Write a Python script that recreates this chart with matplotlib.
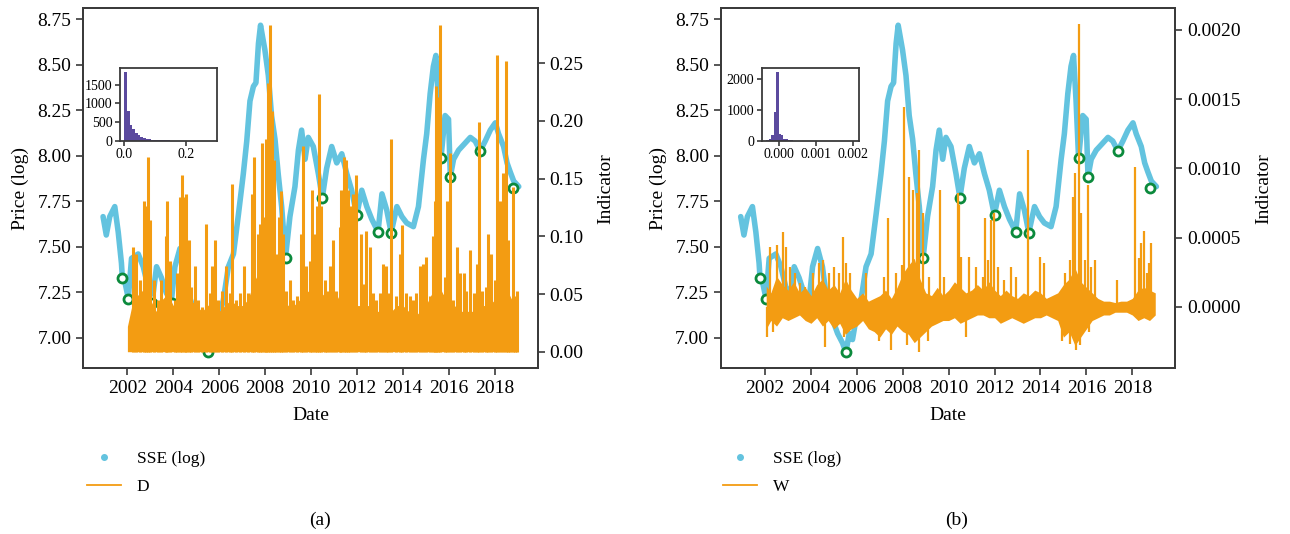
import numpy as np
import matplotlib
matplotlib.use("Agg")
import matplotlib.pyplot as plt
from matplotlib.lines import Line2D
from matplotlib.ticker import FormatStrFormatter, MultipleLocator

# SSE close (log), decimal years
PRICE_T = [2000.94, 2001.08, 2001.23, 2001.45, 2001.60, 2001.74, 2001.78, 2001.90, 2002.04, 2002.18,
           2002.47, 2002.69, 2002.90, 2003.12, 2003.27, 2003.48, 2003.70, 2003.92, 2004.07, 2004.29,
           2004.50, 2004.65, 2004.80, 2004.94, 2005.16, 2005.38, 2005.52, 2005.67, 2005.81, 2005.96,
           2006.18, 2006.40, 2006.62, 2006.84, 2007.05, 2007.20, 2007.34, 2007.49, 2007.60, 2007.71,
           2007.80, 2007.99, 2008.14, 2008.28, 2008.43, 2008.57, 2008.72, 2008.89, 2009.08, 2009.30,
           2009.45, 2009.59, 2009.74, 2009.88, 2010.10, 2010.32, 2010.49, 2010.68, 2010.90, 2011.12,
           2011.34, 2011.56, 2011.77, 2011.99, 2012.21, 2012.43, 2012.65, 2012.92, 2013.09, 2013.30,
           2013.49, 2013.74, 2013.96, 2014.17, 2014.46, 2014.68, 2014.90, 2015.04, 2015.19, 2015.33,
           2015.44, 2015.55, 2015.66, 2015.84, 2015.99, 2016.07, 2016.21, 2016.43, 2016.65, 2016.94,
           2017.15, 2017.37, 2017.59, 2017.81, 2018.03, 2018.17, 2018.39, 2018.54, 2018.68, 2018.83,
           2019.05]
PRICE_V = [7.665, 7.564, 7.665, 7.720, 7.580, 7.410, 7.330, 7.300, 7.216, 7.436,
           7.460, 7.390, 7.280, 7.240, 7.390, 7.330, 7.244, 7.207, 7.390, 7.490,
           7.390, 7.244, 7.190, 7.100, 7.024, 6.970, 6.920, 7.024, 6.990, 7.100,
           7.207, 7.390, 7.460, 7.680, 7.900, 8.080, 8.300, 8.380, 8.400, 8.616,
           8.716, 8.580, 8.440, 8.220, 8.090, 7.900, 7.720, 7.443, 7.665, 7.830,
           8.030, 8.140, 7.980, 8.100, 8.050, 7.900, 7.769, 7.930, 8.050, 7.960,
           8.010, 7.900, 7.810, 7.674, 7.810, 7.720, 7.650, 7.582, 7.790, 7.700,
           7.577, 7.720, 7.665, 7.630, 7.610, 7.720, 7.980, 8.120, 8.340, 8.490,
           8.550, 8.300, 7.986, 8.220, 8.200, 7.885, 7.980, 8.030, 8.060, 8.100,
           8.080, 8.026, 8.080, 8.140, 8.180, 8.120, 8.050, 7.960, 7.910, 7.860,
           7.830]

# detected change points
MARK_T = [2001.78, 2002.04, 2003.05, 2003.96, 2004.62, 2005.52, 2008.89, 2010.49,
          2012.02, 2012.92, 2013.49, 2015.67, 2016.07, 2017.37, 2018.79]
MARK_P = [7.330, 7.215, 7.190, 7.190, 7.130, 6.920, 7.440, 7.770,
          7.675, 7.580, 7.575, 7.985, 7.885, 8.025, 7.820]

# indicator D: peaks and the dense floor underneath
D_T = [2002.25, 2002.39, 2002.54, 2002.71, 2002.80, 2002.90, 2003.00, 2003.15, 2003.33, 2003.48,
       2003.67, 2003.74, 2003.84, 2004.06, 2004.18, 2004.28, 2004.39, 2004.50, 2004.57, 2004.67,
       2004.79, 2004.94, 2005.08, 2005.23, 2005.41, 2005.59, 2005.70, 2005.80, 2005.95, 2006.14,
       2006.31, 2006.46, 2006.57, 2006.75, 2006.89, 2007.07, 2007.26, 2007.44, 2007.50, 2007.69,
       2007.79, 2007.88, 2007.98, 2008.05, 2008.13, 2008.23, 2008.31, 2008.39, 2008.49, 2008.59,
       2008.70, 2008.76, 2008.93, 2009.08, 2009.22, 2009.40, 2009.58, 2009.65, 2009.80, 2009.94,
       2010.06, 2010.16, 2010.26, 2010.35, 2010.45, 2010.60, 2010.70, 2010.81, 2010.96, 2011.10,
       2011.25, 2011.32, 2011.42, 2011.51, 2011.61, 2011.68, 2011.83, 2011.94, 2012.19, 2012.29,
       2012.41, 2012.55, 2012.70, 2012.84, 2012.99, 2013.13, 2013.28, 2013.37, 2013.47, 2013.72,
       2013.86, 2013.98, 2014.15, 2014.30, 2014.44, 2014.59, 2014.76, 2014.88, 2015.02, 2015.17,
       2015.31, 2015.39, 2015.46, 2015.55, 2015.64, 2015.82, 2015.94, 2016.04, 2016.18, 2016.36,
       2016.50, 2016.65, 2016.76, 2016.94, 2017.08, 2017.23, 2017.32, 2017.46, 2017.61, 2017.71,
       2017.86, 2018.00, 2018.09, 2018.22, 2018.37, 2018.48, 2018.58, 2018.69, 2018.78, 2018.88,
       2018.98]
D_V = [0.091, 0.085, 0.062, 0.131, 0.126, 0.169, 0.114, 0.062, 0.045, 0.062,
       0.100, 0.131, 0.079, 0.045, 0.068, 0.134, 0.153, 0.134, 0.137, 0.097,
       0.056, 0.074, 0.045, 0.039, 0.111, 0.051, 0.074, 0.097, 0.045, 0.053,
       0.074, 0.051, 0.145, 0.045, 0.051, 0.074, 0.051, 0.137, 0.169, 0.102,
       0.111, 0.181, 0.117, 0.184, 0.233, 0.283, 0.209, 0.166, 0.085, 0.117,
       0.139, 0.102, 0.053, 0.062, 0.045, 0.048, 0.102, 0.178, 0.074, 0.079,
       0.140, 0.102, 0.126, 0.223, 0.126, 0.062, 0.053, 0.074, 0.097, 0.053,
       0.108, 0.140, 0.169, 0.166, 0.140, 0.126, 0.137, 0.153, 0.102, 0.059,
       0.105, 0.091, 0.051, 0.045, 0.051, 0.076, 0.074, 0.051, 0.184, 0.048,
       0.085, 0.110, 0.051, 0.048, 0.045, 0.051, 0.074, 0.076, 0.082, 0.048,
       0.100, 0.131, 0.230, 0.221, 0.283, 0.065, 0.131, 0.172, 0.045, 0.091,
       0.068, 0.068, 0.053, 0.088, 0.051, 0.076, 0.199, 0.053, 0.056, 0.102,
       0.085, 0.062, 0.257, 0.131, 0.155, 0.252, 0.097, 0.045, 0.143, 0.048,
       0.053]
DF_T = [2002.00, 2002.25, 2002.50, 2002.75, 2003.00, 2003.25, 2003.50, 2003.75, 2004.00, 2004.25,
        2004.50, 2004.75, 2005.00, 2005.25, 2005.50, 2005.75, 2006.00, 2006.25, 2006.50, 2006.75,
        2007.00, 2007.25, 2007.50, 2007.75, 2008.00, 2008.25, 2008.50, 2008.75, 2009.00, 2009.25,
        2009.50, 2009.75, 2010.00, 2010.25, 2010.50, 2010.75, 2011.00, 2011.25, 2011.50, 2011.75,
        2012.00, 2012.25, 2012.50, 2012.75, 2013.00, 2013.25, 2013.50, 2013.75, 2014.00, 2014.25,
        2014.50, 2014.75, 2015.00, 2015.25, 2015.50, 2015.75, 2016.00, 2016.25, 2016.50, 2016.75,
        2017.00, 2017.25, 2017.50, 2017.75, 2018.00, 2018.25, 2018.50, 2018.75, 2018.98]
DF_V = [0.022, 0.045, 0.050, 0.055, 0.045, 0.035, 0.045, 0.050, 0.040, 0.050,
        0.060, 0.045, 0.040, 0.035, 0.040, 0.045, 0.035, 0.040, 0.045, 0.040,
        0.040, 0.045, 0.060, 0.070, 0.080, 0.090, 0.070, 0.050, 0.040, 0.040,
        0.045, 0.050, 0.055, 0.060, 0.050, 0.045, 0.040, 0.050, 0.060, 0.050,
        0.040, 0.040, 0.040, 0.035, 0.035, 0.040, 0.035, 0.040, 0.040, 0.035,
        0.030, 0.035, 0.040, 0.050, 0.060, 0.050, 0.045, 0.040, 0.035, 0.035,
        0.035, 0.035, 0.040, 0.040, 0.045, 0.050, 0.055, 0.045, 0.040]

# indicator W: band around zero, upward spikes, downward dips
WB_T = [2002.05, 2002.25, 2002.50, 2002.75, 2003.00, 2003.25, 2003.50, 2003.75, 2004.00, 2004.25,
        2004.50, 2004.75, 2005.00, 2005.25, 2005.50, 2005.75, 2006.00, 2006.25, 2006.50, 2006.75,
        2007.00, 2007.25, 2007.50, 2007.75, 2008.00, 2008.25, 2008.50, 2008.75, 2009.00, 2009.25,
        2009.50, 2009.75, 2010.00, 2010.25, 2010.50, 2010.75, 2011.00, 2011.25, 2011.50, 2011.75,
        2012.00, 2012.25, 2012.50, 2012.75, 2013.00, 2013.25, 2013.50, 2013.75, 2014.00, 2014.25,
        2014.50, 2014.75, 2015.00, 2015.25, 2015.50, 2015.75, 2016.00, 2016.25, 2016.50, 2016.75,
        2017.00, 2017.25, 2017.50, 2017.75, 2018.00, 2018.25, 2018.50, 2018.75, 2019.00]
WB_HI = [0.00015, 0.00010, 0.00022, 0.00016, 0.00012, 0.00018, 0.00010, 0.00014, 0.00008, 0.00016,
         0.00020, 0.00012, 0.00016, 0.00010, 0.00020, 0.00012, 0.00006, 0.00010, 0.00004, 0.00006,
         0.00008, 0.00012, 0.00006, 0.00014, 0.00024, 0.00030, 0.00035, 0.00020, 0.00010, 0.00008,
         0.00014, 0.00008, 0.00012, 0.00018, 0.00014, 0.00010, 0.00012, 0.00016, 0.00012, 0.00018,
         0.00012, 0.00008, 0.00012, 0.00008, 0.00006, 0.00010, 0.00008, 0.00012, 0.00010, 0.00006,
         0.00008, 0.00010, 0.00016, 0.00020, 0.00028, 0.00018, 0.00014, 0.00010, 0.00006, 0.00004,
         0.00004, 0.00003, 0.00004, 0.00004, 0.00006, 0.00012, 0.00014, 0.00012, 0.00010]
WB_LO = [-0.00016, -0.00010, -0.00014, -0.00008, -0.00010, -0.00008, -0.00006, -0.00010, -0.00012, -0.00008,
         -0.00014, -0.00010, -0.00016, -0.00012, -0.00020, -0.00016, -0.00014, -0.00010, -0.00016, -0.00018,
         -0.00022, -0.00016, -0.00020, -0.00014, -0.00018, -0.00020, -0.00026, -0.00022, -0.00018, -0.00014,
         -0.00012, -0.00010, -0.00010, -0.00008, -0.00012, -0.00010, -0.00008, -0.00006, -0.00006, -0.00008,
         -0.00008, -0.00012, -0.00010, -0.00008, -0.00010, -0.00012, -0.00010, -0.00008, -0.00008, -0.00006,
         -0.00008, -0.00010, -0.00022, -0.00018, -0.00028, -0.00022, -0.00016, -0.00010, -0.00008, -0.00006,
         -0.00006, -0.00004, -0.00004, -0.00004, -0.00006, -0.00010, -0.00008, -0.00010, -0.00006]
WU_T = [2002.22, 2002.54, 2002.77, 2002.90, 2003.09, 2003.31, 2003.53, 2003.74, 2004.11, 2004.34,
        2004.51, 2004.80, 2005.00, 2005.21, 2005.39, 2005.53, 2005.72, 2006.38, 2007.18, 2007.37,
        2007.69, 2007.95, 2008.07, 2008.28, 2008.43, 2008.62, 2008.69, 2008.87, 2009.16, 2009.63,
        2009.81, 2010.39, 2010.47, 2010.54, 2010.90, 2011.19, 2011.48, 2011.60, 2011.70, 2011.85,
        2011.96, 2012.14, 2012.43, 2012.72, 2012.94, 2013.47, 2013.96, 2014.17, 2015.05, 2015.27,
        2015.41, 2015.49, 2015.66, 2015.78, 2015.93, 2016.09, 2016.21, 2016.36, 2017.35, 2018.13,
        2018.28, 2018.39, 2018.50, 2018.62, 2018.72, 2018.81]
WU_V = [0.000434, 0.000446, 0.000542, 0.000434, 0.000289, 0.000241, 0.000169, 0.000145, 0.000241, 0.000313,
        0.000337, 0.000241, 0.000289, 0.000241, 0.000506, 0.000313, 0.000241, 0.000241, 0.000217, 0.000639,
        0.000241, 0.000300, 0.001446, 0.000940, 0.000843, 0.000819, 0.001133, 0.000675, 0.000217, 0.000843,
        0.000217, 0.000819, 0.000735, 0.000360, 0.000360, 0.000289, 0.000217, 0.000639, 0.000337, 0.000626,
        0.000675, 0.000289, 0.000193, 0.000289, 0.000217, 0.001133, 0.000360, 0.000313, 0.000241, 0.000337,
        0.000795, 0.000964, 0.002041, 0.000675, 0.000337, 0.000880, 0.000289, 0.000337, 0.000193, 0.001012,
        0.000354, 0.000463, 0.000547, 0.000241, 0.000313, 0.000458]
WD_T = [2002.10, 2002.36, 2004.63, 2005.45, 2006.95, 2007.47, 2008.20, 2008.72, 2009.10, 2010.76,
        2014.95, 2015.30, 2015.55, 2015.70, 2016.10]
WD_V = [-0.00022, -0.00018, -0.00029, -0.00022, -0.00025, -0.00031, -0.00028, -0.00033, -0.00025, -0.00022,
        -0.00025, -0.00027, -0.00031, -0.00028, -0.00018]

# histogram counts of the indicators (insets)
HIST_D_RANGE = (0.0, 0.285)
HIST_D = [1840, 800, 430, 300, 200, 140, 100, 75, 55, 42, 32, 25, 18, 14, 10, 8, 6,
          5, 4, 3, 3, 2, 2, 1, 1, 1, 1, 0, 1, 0, 1, 0, 1]
HIST_W_RANGE = (-0.00033, 0.00204)
HIST_W = [10, 40, 200, 950, 2250, 210, 190, 60, 40, 15, 8, 5, 3, 2, 2, 1, 1, 1,
          0, 0, 0, 0, 0, 0, 0, 0, 0, 0, 0, 0, 0, 0, 0, 0, 0, 1]

CYAN = "#63c3df"
ORANGE = "#f39c12"
GREEN = "#0b8a3c"
PURPLE = "#5b4a9e"
SPINE = "#3a3a3a"


def style_axes(ax, size=14):
    for sp in ax.spines.values():
        sp.set_color(SPINE)
        sp.set_linewidth(1.3)
    ax.tick_params(direction="out", length=5, width=1.2, color=SPINE, labelsize=size)


def draw_price(ax):
    ax.plot(PRICE_T, PRICE_V, color=CYAN, lw=4.0, solid_joinstyle="round",
            solid_capstyle="round", zorder=2)
    ax.plot(MARK_T, MARK_P, ls="none", marker="o", ms=6.5, mfc="white", mec=GREEN,
            mew=2.0, zorder=3)
    ax.set_xlim(2000.08, 2019.88)
    ax.set_ylim(6.834, 8.809)
    ax.xaxis.set_major_locator(MultipleLocator(2))
    ax.xaxis.set_major_formatter(FormatStrFormatter("%d"))
    ax.yaxis.set_major_locator(MultipleLocator(0.25))
    ax.yaxis.set_major_formatter(FormatStrFormatter("%.2f"))
    ax.set_xlabel("Date", fontsize=14, labelpad=7)
    ax.set_ylabel("Price (log)", fontsize=14, labelpad=6)
    style_axes(ax)


def draw_inset(fig, rect, counts, rng, xticks, yticks, fmt):
    iax = fig.add_axes(rect, zorder=10)
    edges = np.linspace(rng[0], rng[1], len(counts) + 1)
    iax.bar(edges[:-1], counts, width=edges[1] - edges[0], align="edge",
            color=PURPLE, lw=0)
    span = rng[1] - rng[0]
    iax.set_xlim(rng[0] - 0.05 * span, rng[1] + 0.05 * span)
    iax.set_ylim(0, max(counts) * 1.06)
    iax.set_xticks(xticks)
    iax.set_xticklabels([fmt % v for v in xticks])
    iax.set_yticks(yticks)
    style_axes(iax, size=10)
    iax.tick_params(length=3.5, pad=2)
    return iax


def add_legend(fig, name, x, y):
    handles = [Line2D([], [], ls="none", marker="o", ms=4, color=CYAN),
               Line2D([], [], color=ORANGE, lw=1.3)]
    fig.legend(handles, ["SSE (log)", name], loc="upper left", bbox_to_anchor=(x, y),
               frameon=False, fontsize=12.5, handlelength=2.0, handletextpad=0.9,
               labelspacing=0.7)


def main():
    plt.rcParams["font.family"] = ["Liberation Serif", "DejaVu Serif"]

    fig = plt.figure(figsize=(12.9, 5.34), dpi=100)
    ax_a = fig.add_axes([0.0646, 0.3109, 0.3523, 0.6736])
    ax_b = fig.add_axes([0.5589, 0.3109, 0.3523, 0.6736])

    # (a) D indicator
    draw_price(ax_a)
    tw_a = ax_a.twinx()
    tw_a.fill_between(DF_T, 0, DF_V, color=ORANGE, lw=0)
    tw_a.vlines(D_T, 0, D_V, color=ORANGE, lw=2.2)
    tw_a.set_ylim(-0.0141, 0.2977)
    tw_a.yaxis.set_major_locator(MultipleLocator(0.05))
    tw_a.yaxis.set_major_formatter(FormatStrFormatter("%.2f"))
    tw_a.set_ylabel("Indicator", fontsize=14, labelpad=10)
    style_axes(tw_a)

    # (b) W indicator
    draw_price(ax_b)
    tw_b = ax_b.twinx()
    tw_b.fill_between(WB_T, WB_LO, WB_HI, color=ORANGE, lw=0)
    tw_b.vlines(WU_T, 0, WU_V, color=ORANGE, lw=1.6)
    tw_b.vlines(WD_T, 0, WD_V, color=ORANGE, lw=1.6)
    tw_b.set_ylim(-0.000443, 0.002157)
    tw_b.yaxis.set_major_locator(MultipleLocator(0.0005))
    tw_b.yaxis.set_major_formatter(FormatStrFormatter("%.4f"))
    tw_b.set_ylabel("Indicator", fontsize=14, labelpad=10)
    style_axes(tw_b)

    draw_inset(fig, [0.0930, 0.7365, 0.0754, 0.1367], HIST_D, HIST_D_RANGE,
               [0.0, 0.2], [0, 500, 1000, 1500], "%.1f")
    draw_inset(fig, [0.5905, 0.7365, 0.0757, 0.1367], HIST_W, HIST_W_RANGE,
               [0.0, 0.001, 0.002], [0, 1000, 2000], "%.3f")

    add_legend(fig, "D", 0.055, 0.185)
    add_legend(fig, "W", 0.548, 0.185)

    fig.text(320 / 1290, 1 - 520 / 534, "(a)", ha="center", va="center", fontsize=14)
    fig.text(957 / 1290, 1 - 520 / 534, "(b)", ha="center", va="center", fontsize=14)

    fig.savefig("out.png", dpi=100)


if __name__ == "__main__":
    main()
